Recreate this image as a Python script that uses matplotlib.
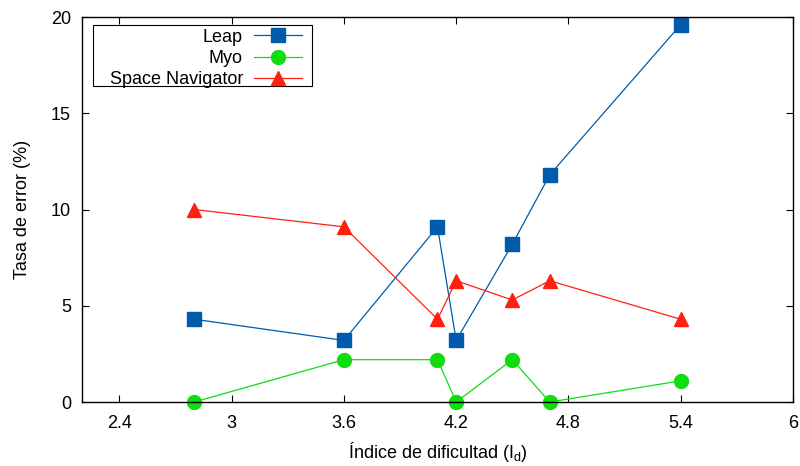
import matplotlib
matplotlib.use("Agg")
import matplotlib.pyplot as plt
from matplotlib.patches import Rectangle

plt.rcParams['font.family'] = ['Liberation Sans', 'DejaVu Sans']
plt.rcParams['mathtext.fontset'] = 'custom'
plt.rcParams['mathtext.rm'] = 'Liberation Sans'
plt.rcParams['mathtext.it'] = 'Liberation Sans:italic'

x_vals = [2.8, 3.6, 4.1, 4.2, 4.5, 4.7, 5.4]
leap = [4.3, 3.2, 9.1, 3.2, 8.2, 11.8, 19.6]
myo_x = [2.8, 3.6, 4.1, 4.2, 4.5, 4.7, 5.4]
myo = [0.0, 2.2, 2.2, 0.0, 2.2, 0.0, 1.1]
space_nav = [10.0, 9.1, 4.3, 6.3, 5.3, 6.3, 4.3]
xticks = [2.4, 3, 3.6, 4.2, 4.8, 5.4, 6]
yticks = [0, 5, 10, 15, 20]

W, H = 800, 466
fig = plt.figure(figsize=(8, 4.66), dpi=100)
ax = fig.add_axes([0.1025, 0.1373, 0.8887, 0.8262])

ax.plot(x_vals, leap, color='#005BAC', lw=0.9, marker='s', ms=10, label='Leap')
ax.plot(myo_x, myo, color='#10DC10', lw=0.9, marker='o', ms=10, label='Myo')
ax.plot(x_vals, space_nav, color='#FF2010', lw=0.9, marker='^', ms=10, label='Space Navigator')

ax.set_xlim(2.2, 6)
ax.set_ylim(0, 20)
ax.set_xticks(xticks)
ax.set_xticklabels(['2.4', '3', '3.6', '4.2', '4.8', '5.4', '6'])
ax.set_yticks(yticks)
ax.tick_params(direction='in', top=True, right=True, labelsize=13, length=5, width=0.8)
ax.tick_params(axis='x', pad=9)
ax.tick_params(axis='y', pad=8)
for s in ax.spines.values():
    s.set_linewidth(1.0)
for line in ax.get_lines():
    line.set_clip_on(False)

ax.set_xlabel('Índice de dificultad (I$_\\mathrm{d}$)', fontsize=13, labelpad=6)
ax.set_ylabel('Tasa de error (%)', fontsize=13, labelpad=14)

# legend frame (gnuplot-style box)
frame = Rectangle((93 / W, 1 - 86 / H), (312 - 93) / W, (86 - 25) / H,
                  transform=fig.transFigure, facecolor='white', edgecolor='black',
                  linewidth=0.8, zorder=4.5, clip_on=False)
ax.add_patch(frame)

leg = ax.legend(loc='upper right', bbox_to_anchor=(302 / W, 1 - 28.5 / H),
                bbox_transform=fig.transFigure, markerfirst=False,
                fontsize=13, frameon=False, borderpad=0, labelspacing=0.24,
                handlelength=2.66, handletextpad=0.61, borderaxespad=0)
leg.set_zorder(5)

fig.savefig('out.png', dpi=100)
